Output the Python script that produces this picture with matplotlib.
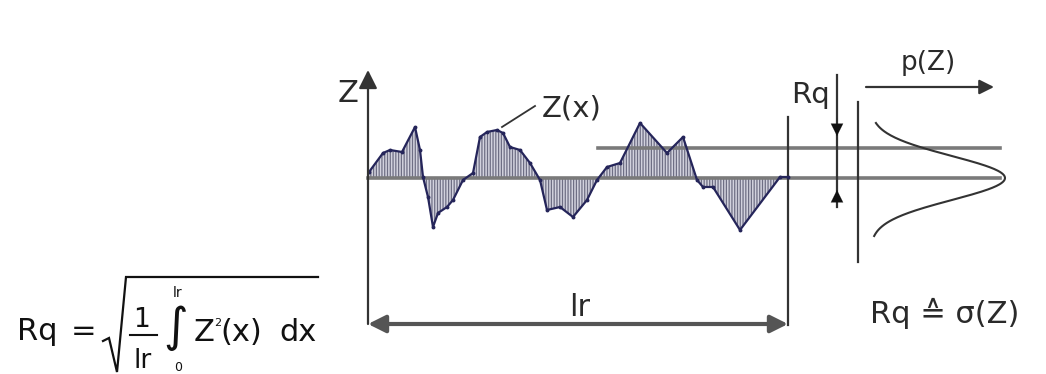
import numpy as np
import matplotlib.pyplot as plt

plt.rcParams['font.family'] = ['DejaVu Sans']
plt.rcParams['hatch.linewidth'] = 0.9
plt.rcParams['hatch.color'] = '#6e6e84'

# surface profile Z(x) (x in px, Z upward from mean line)
prof_x = [369, 383, 390, 402, 415, 420, 423, 428, 433, 438, 447, 453, 463, 473,
          480, 487, 497, 503, 510, 520, 530, 540, 547, 560, 573, 587, 597, 607,
          620, 640, 667, 683, 697, 703, 713, 740, 780, 788]
prof_z = [6, 25, 28, 26, 51, 28, 1, -19, -49, -35, -29, -22, -2, 5,
          41, 46, 48, 45, 31, 28, 15, -2, -32, -29, -39, -22, -2, 11,
          15, 55, 25, 41, -2, -9, -9, -52, 1, 1]

z_mean = 0      # mean line
z_rq = 30       # Rq line
x0, x_lr = 368, 788   # start / end of sampling length lr
sigma = 22      # spread of the p(Z) bell
p_base, p_height = 870, 135

txt = '#2a2a2a'
dark = '#333333'
grey = '#7a7a7a'

fig = plt.figure(figsize=(10.46, 3.74), dpi=100)
ax = fig.add_axes([0, 0, 1, 1])
ax.set_xlim(0, 1046)
ax.set_ylim(178 - 374, 178)
ax.axis('off')

# hatched area between profile and mean line
ax.fill_between(prof_x, prof_z, z_mean, facecolor='#d2d2de', hatch='||||||',
                edgecolor='#6e6e84', linewidth=0)
ax.plot([x0, 1000], [z_mean, z_mean], color=grey, lw=2.6, zorder=2)
ax.plot([598, 1000], [z_rq, z_rq], color=grey, lw=2.6, zorder=2)
ax.plot(prof_x, prof_z, color='#25255a', lw=1.6, marker='o', ms=1.8, zorder=3)

# Z axis
ax.annotate('', xy=(x0, 108), xytext=(x0, -146),
            arrowprops=dict(arrowstyle='-|>', color=dark, lw=1.6,
                            mutation_scale=28, shrinkA=0, shrinkB=0))
ax.text(348, 76, 'Z', ha='center', va='baseline', fontsize=22, color=txt)

# Z(x) leader
ax.plot([502, 535], [51, 72], color=dark, lw=1.3)
ax.text(572, 62, 'Z(x)', ha='center', va='baseline', fontsize=21, color=txt)

# right end of lr and p(Z) axis
ax.plot([x_lr, x_lr], [61, -147], color=dark, lw=1.6)
ax.plot([858, 858], [76, -84], color=dark, lw=1.6)

# lr double arrow
ax.annotate('', xy=(x0, -146), xytext=(x_lr, -146),
            arrowprops=dict(arrowstyle='<|-|>', color='#555555', lw=3,
                            mutation_scale=26, shrinkA=0, shrinkB=0))
ax.text(580, -138, 'lr', ha='center', va='baseline', fontsize=22, color=txt)

# Rq arrows
ax.plot([837, 837], [103, -29], color=dark, lw=1.6)
ax.annotate('', xy=(837, z_rq + 12), xytext=(837, 60),
            arrowprops=dict(arrowstyle='-|>', color='#111111', lw=0.1,
                            mutation_scale=22, shrinkA=0, shrinkB=0))
ax.annotate('', xy=(837, -12), xytext=(837, -30),
            arrowprops=dict(arrowstyle='-|>', color='#111111', lw=0.1,
                            mutation_scale=22, shrinkA=0, shrinkB=0))
ax.text(811, 75, 'Rq', ha='center', va='baseline', fontsize=21, color=txt)

# p(Z) arrow and bell curve
ax.annotate('', xy=(994, 91), xytext=(866, 91),
            arrowprops=dict(arrowstyle='-|>', color=dark, lw=1.6,
                            mutation_scale=22, shrinkA=0, shrinkB=0))
ax.text(928, 108, 'p(Z)', ha='center', va='baseline', fontsize=19, color=txt)
zz = np.linspace(-58, 55, 200)
ax.plot(p_base + p_height * np.exp(-0.5 * (zz / sigma) ** 2), zz,
        color=dark, lw=1.5)

ax.text(945, -145, 'Rq \u2259 \u03c3(Z)', ha='center', va='baseline',
        fontsize=22, color=txt)

# formula Rq = sqrt(1/lr * int_0^lr Z^2(x) dx)
fs = 22
ink = '#111111'
ax.text(37, -162, 'Rq', ha='center', va='baseline', fontsize=fs, color=ink)
ax.text(84, -162, '=', ha='center', va='baseline', fontsize=fs, color=ink)
ax.plot([103, 109, 117, 126, 318], [-163, -160, -194, -99, -99],
        color=ink, lw=1.6, solid_joinstyle='miter')
ax.text(141, -149, '1', ha='center', va='baseline', fontsize=19, color=ink)
ax.plot([130, 157], [-157, -157], color=ink, lw=1.5)
ax.text(143, -190, 'lr', ha='center', va='baseline', fontsize=19, color=ink)
ax.text(176, -150, '\u222b', ha='center', va='center', fontsize=34, color=ink)
ax.text(178, -119, 'lr', ha='center', va='baseline', fontsize=10, color=ink)
ax.text(178, -193, '0', ha='center', va='baseline', fontsize=9, color=ink)
ax.text(204, -163, 'Z', ha='center', va='baseline', fontsize=fs, color=ink)
ax.text(218, -148, '2', ha='center', va='baseline', fontsize=8, color=ink)
ax.text(241, -163, '(x)', ha='center', va='baseline', fontsize=fs, color=ink)
ax.text(298, -163, 'dx', ha='center', va='baseline', fontsize=fs, color=ink)

fig.savefig('out.png', dpi=100)
